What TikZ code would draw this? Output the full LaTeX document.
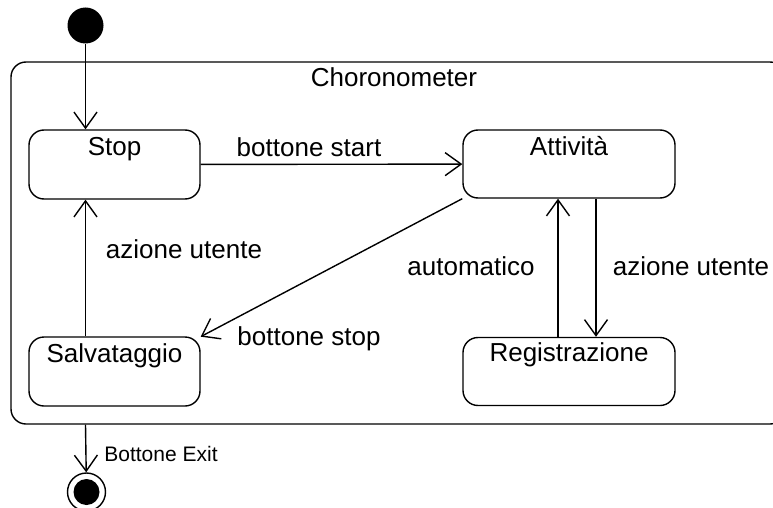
\documentclass[tikz,border=0pt]{standalone}
\usepackage{fontspec}
\setmainfont{Liberation Sans}
\usetikzlibrary{arrows.meta}
\begin{document}
\begin{tikzpicture}[x=1pt,y=-1pt,
  every node/.style={font=\fontsize{26}{30}\selectfont},
  line width=1.4pt,
  >={Straight Barb[length=16pt,width=23pt]},
  statebox/.style={draw,rounded corners=15pt,inner sep=0pt},
  smallbox/.style={statebox,minimum width=171pt,minimum height=69pt},
  bigbox/.style={statebox,minimum width=212pt,minimum height=68pt},
  lbl/.style={anchor=base,inner sep=0pt},
  ]
\useasboundingbox (0,0) rectangle (773,508);
\clip (0,0) rectangle (773,508);

% composite state
\node[statebox,minimum width=774pt,minimum height=362pt] (chrono) at (398,243) {};
\node[lbl] (title) at (394,87) {Choronometer};

% pseudo states
\node[circle,fill,minimum size=36pt,inner sep=0pt] (init) at (85.5,25.5) {};
\node[circle,draw,minimum size=38pt,inner sep=0pt] (fin) at (86.5,492) {};
\node[circle,fill,minimum size=26pt,inner sep=0pt] (finin) at (fin) {};

% states
\node[smallbox,label={[lbl,yshift=-26pt]north:Stop}] (stop) at (114.5,164.5) {};
\node[smallbox,label={[lbl,yshift=-26pt]north:Salvataggio}] (salv) at (114.5,371.5) {};
\node[bigbox,label={[lbl,yshift=-26pt]north:Attività}] (att) at (569,164) {};
\node[bigbox,label={[lbl,yshift=-25pt]north:Registrazione}] (reg) at (569,371.5) {};

% transitions
\draw[->] (init) -- (stop.north -| init);
\draw[->] (stop) -- (att);
\draw[->] (salv.north -| init) -- (stop.south -| init);
\draw[->] (att.198) -- (salv.22.5);
\draw[->] ([xshift=27pt]att.south) -- ([xshift=27pt]reg.north);
\draw[->] ([xshift=-11pt]reg.north) -- ([xshift=-11pt]att.south);
\draw[->] (init |- chrono.south) -- (fin);

% transition labels
\node[lbl] (l1) at (309,156) {bottone start};
\node[lbl] (l2) at (309,345) {bottone stop};
\node[lbl] (l3) at (184,258) {azione utente};
\node[lbl] (l4) at (471,275) {automatico};
\node[lbl] (l5) at (691,275) {azione utente};
\node[lbl,font=\fontsize{21}{25}\selectfont] (l6) at (161,461) {Bottone Exit};
\end{tikzpicture}
\end{document}
